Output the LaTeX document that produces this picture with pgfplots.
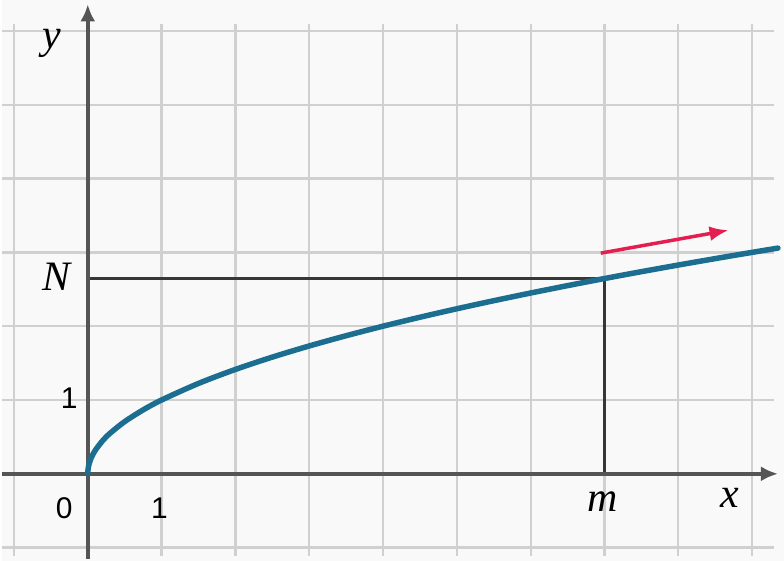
\documentclass[border=0pt]{standalone}
\usepackage{pgfplots}
\pgfplotsset{compat=1.18}
\usepackage{fontspec}
\setmainfont{Liberation Serif}
\newfontfamily\numfont{Liberation Sans}
\usetikzlibrary{arrows.meta}
\definecolor{bgc}{RGB}{249,249,249}
\definecolor{gridc}{RGB}{208,208,208}
\definecolor{axc}{RGB}{85,85,85}
\definecolor{linec}{RGB}{55,55,55}
\definecolor{curvec}{RGB}{28,110,145}
\definecolor{redc}{RGB}{228,30,80}
\begin{document}
\begin{tikzpicture}
\begin{axis}[
  scale only axis,
  x=74pt, y=74pt,
  xmin=-1.162, xmax=9.432,
  ymin=-1.176, ymax=6.419,
  hide axis,
  clip=false,
]
\fill[bgc] (rel axis cs:0,0) rectangle (rel axis cs:1,1);
% grid
\pgfplotsinvokeforeach{-1,0,1,2,3,4,5,6,7,8,9}{
  \draw[gridc, line width=2.3pt] (axis cs:#1,-1.11) -- (axis cs:#1,6.1);
}
\pgfplotsinvokeforeach{-1,0,1,2,3,4,5,6}{
  \draw[gridc, line width=2.3pt] (axis cs:-1.162,#1) -- (axis cs:9.3,#1);
}
% guide lines
\addplot[linec, line width=2.6pt] coordinates {(0,2.6458) (7,2.6458) (7,0)};
% axes
\draw[axc, line width=4pt, -{Latex[length=17pt,width=15pt]}] (axis cs:0,-1.15) -- (axis cs:0,6.36);
\draw[axc, line width=4pt, -{Latex[length=17pt,width=15pt]}] (axis cs:-1.162,0) -- (axis cs:9.35,0);
% curve
\addplot[curvec, line width=5.5pt, smooth, line cap=round] coordinates {
(0,0) (0.001,0.0316) (0.005,0.0707) (0.02,0.1414) (0.05,0.2236) (0.1,0.3162)
(0.2,0.4472) (0.3,0.5477) (0.5,0.7071) (0.75,0.8660) (1,1) (1.5,1.2247)
(2,1.4142) (2.5,1.5811) (3,1.7321) (3.5,1.8708) (4,2) (4.5,2.1213)
(5,2.2361) (5.5,2.3452) (6,2.4495) (6.5,2.5495) (7,2.6458) (7.5,2.7386)
(8,2.8284) (8.5,2.9155) (9,3) (9.35,3.0578)};
% red arrow
\addplot[redc, line width=3.5pt, -{Latex[length=19pt,width=15pt]}] coordinates {(6.95,2.99) (8.68,3.30)};
% labels
\node[font=\fontsize{42}{42}\selectfont\itshape] at (axis cs:-0.49,5.83) {y};
\node[font=\fontsize{42}{42}\selectfont\itshape] at (axis cs:8.7,-0.33) {x};
\node[font=\fontsize{42}{42}\selectfont\itshape] at (axis cs:-0.42,2.67) {N};
\node[font=\fontsize{42}{42}\selectfont\itshape] at (axis cs:6.97,-0.38) {m};
\node[font=\fontsize{30}{30}\selectfont\numfont] at (axis cs:-0.32,-0.47) {0};
\node[font=\fontsize{30}{30}\selectfont\numfont] at (axis cs:0.97,-0.47) {1};
\node[font=\fontsize{30}{30}\selectfont\numfont] at (axis cs:-0.25,1.02) {1};
\end{axis}
\end{tikzpicture}
\end{document}
